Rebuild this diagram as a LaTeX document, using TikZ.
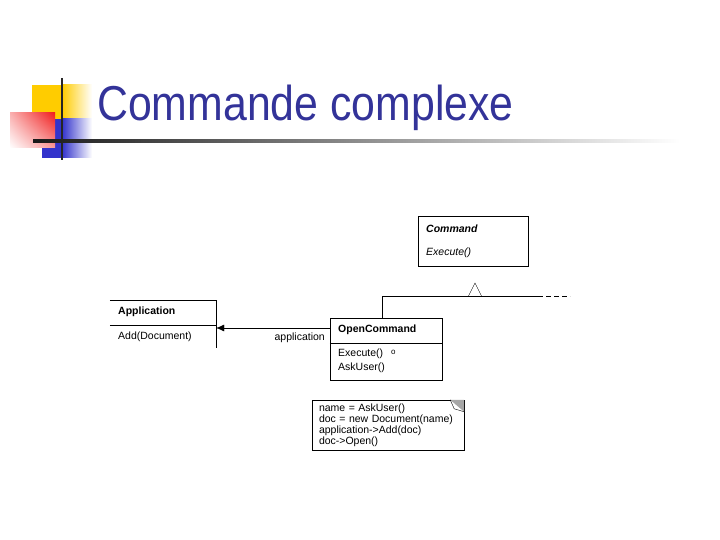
\documentclass[tikz,border=0pt]{standalone}
\usepackage{fontspec}
\setmainfont{Liberation Sans}
\usepackage{graphicx}
\usetikzlibrary{arrows.meta, positioning, shadings}
\definecolor{titleblue}{RGB}{51,51,153}
\definecolor{decoyellow}{RGB}{255,204,0}
\definecolor{decoblue}{RGB}{51,51,204}
\definecolor{decored}{RGB}{240,30,30}
\newcommand{\umlfont}{\fontsize{10.5}{11}\selectfont}

\begin{document}
\begin{tikzpicture}[x=1pt, y=-1pt, node distance=2pt and 2pt]

    \tikzstyle{classbox} = [rectangle, draw, thin, inner sep=0pt]
    \tikzstyle{member} = [inner sep=0pt, anchor=west, font=\umlfont]
    \tikzstyle{arrow} = [thin, -{Latex[length=8pt,width=7pt]}]
    \tikzstyle{note} = [rectangle, draw, thin, minimum width=150pt, minimum height=50pt, text width=138pt, align=left, inner xsep=7pt, inner ysep=3pt, font=\umlfont]

    \useasboundingbox (0,0) rectangle (720,540);

    % slide decoration
    \fill[decoyellow] (32,85) rectangle (62,120);
    \shade[left color=decoyellow, right color=white] (62,85) rectangle (92,120);
    \fill[decoblue] (42,119) rectangle (62,158);
    \shade[left color=decoblue, right color=white] (62,119) rectangle (92,158);
    \shade[upper left=decored!35, upper right=decored, lower left=white, lower right=decored!45] (10,113) rectangle (55,148);
    \draw[line width=2.5pt, black!85] (62,78) -- (62,160);
    \shade[left color=black!90, right color=white] (33,139.5) rectangle (680,142.5);

    \node (title) [anchor=base west, text=titleblue, inner sep=0pt] at (97,121)
        {\scalebox{0.874}[1]{\fontsize{49}{50}\selectfont Commande complexe}};

    % classes
    \node (cmd) [classbox, minimum width=110pt, minimum height=50pt] at (473,241) {};
    \node (cmdname) [member, font=\umlfont\bfseries\itshape] at (426,229) {Command};
    \node (cmdexec) [member, font=\umlfont\itshape] at (426,253) {Execute()};

    \node (opencmd) [classbox, minimum width=112pt, minimum height=62pt] at (386,349) {};
    \draw (opencmd.west |- 0,343) -- (opencmd.east |- 0,343);
    \node (openname) [member, font=\umlfont\bfseries] at (338,330) {OpenCommand};
    \node (openexec) [member] at (338,354) {Execute()};
    \node (openask) [member] at (338,368) {AskUser()};
    \node (anchor) [member, font=\fontsize{8}{8}\selectfont] at (391,352) {o};

    \node (app) [rectangle, minimum width=106pt, minimum height=48pt, inner sep=0pt] at (163,324) {};
    \draw (app.north west) -- (app.north east) -- (app.south east);
    \draw (app.west |- 0,325) -- (app.east |- 0,325);
    \node (appname) [member, font=\umlfont\bfseries] at (118,312) {Application};
    \node (appadd) [member] at (118,337) {Add(Document)};

    % links
    \draw [arrow] (opencmd.west |- 0,328) -- (app.east |- 0,328);
    \node (role) [member, anchor=east] at (325,338) {application};

    \coordinate (hier) at (382,296);
    \coordinate (tri) at (475,296);
    \coordinate (hend) at (538,296);
    \coordinate (hdash) at (570,296);
    \draw (opencmd.north -| hier) -- (hier) -- (hend);
    \draw [dashed, dash pattern=on 5pt off 3pt] (hend) -- (hdash);
    \draw (tri) ++(-6.5,0) -- ++(6.5,-13) -- ++(6.5,13);

    % note
    \node (note) [note] at (388,425)
        {name = AskUser()\\doc = new Document(name)\\application->Add(doc)\\doc->Open()};
    \fill[gray!70] (note.north east) -- ++(-14,0) -- ++(14,12) -- cycle;
    \draw (note.north east) ++(-14,0) -- ++(4,9) -- ++(10,3);

\end{tikzpicture}
\end{document}
